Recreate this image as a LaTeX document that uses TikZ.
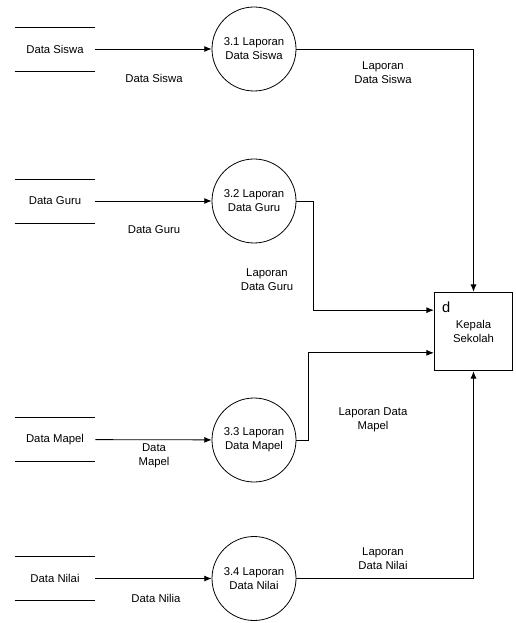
\documentclass[tikz,border=0pt]{standalone}
\usepackage{fontspec}
\setmainfont{Liberation Sans}
\usetikzlibrary{arrows.meta,positioning,calc}

\newcommand{\dfdfont}{\fontsize{8.5}{10.5}\selectfont}

\begin{document}
\begin{tikzpicture}[x=0.75pt, y=-0.75pt, line width=0.6pt,
    store/.style={minimum width=60pt, minimum height=32.5pt, inner sep=0pt, font=\dfdfont},
    process/.style={circle, draw, minimum size=63pt, inner sep=1pt, align=center, font=\dfdfont},
    entity/.style={rectangle, draw, minimum size=59pt, align=center, font=\dfdfont},
    flowlabel/.style={align=center, font=\dfdfont},
    arrow/.style={-{Latex[length=5.5pt,width=4.5pt]}}
]
\useasboundingbox (0,0) rectangle (516,623);

% Data stores
\node[store] (dsiswa) at (55, 49) {Data Siswa};
\node[store] (dguru) at (55, 201) {Data Guru};
\node[store] (dmapel) at (55, 439.5) {Data Mapel};
\node[store] (dnilai) at (55, 578.5) {Data Nilai};
\foreach \s in {dsiswa, dguru, dmapel, dnilai} {
    \draw (\s.north west) -- (\s.north east);
    \draw (\s.south west) -- (\s.south east);
}

% Processes
\node[process] (p31) at (254, 49) {3.1 Laporan\\Data Siswa};
\node[process] (p32) at (254, 201) {3.2 Laporan\\Data Guru};
\node[process] (p33) at (254, 440) {3.3 Laporan\\Data Mapel};
\node[process] (p34) at (254, 578.5) {3.4 Laporan\\Data Nilai};

% External entity
\node[entity] (kepsek) at (473.5, 331.5) {Kepala\\Sekolah};
\node[font=\fontsize{11}{11}\selectfont, anchor=north west, inner sep=0pt] (kd) at ([shift={(6pt,-7pt)}]kepsek.north west) {d};

% Flows into processes
\draw[arrow] (dsiswa) -- (p31);
\draw[arrow] (dguru) -- (p32);
\draw[arrow] (dmapel) -- (p33);
\draw[arrow] (dnilai) -- (p34);

% Flows to Kepala Sekolah
\draw[arrow] (p31) -| (kepsek);
\draw[arrow] (p32.east) -- ++(17,0) |- ([yshift=16pt]kepsek.west);
\draw[arrow] (p33.east) -- ++(12,0) |- ([yshift=-16pt]kepsek.west);
\draw[arrow] (p34) -| (kepsek);

% Flow labels
\node[flowlabel] (l1) at (154, 78) {Data Siswa};
\node[flowlabel] (l2) at (154, 230) {Data Guru};
\node[flowlabel] (l3) at (154, 456) {Data\\Mapel};
\node[flowlabel] (l4) at (156, 598) {Data Nilia};
\node[flowlabel] (l5) at (383, 73) {Laporan\\Data Siswa};
\node[flowlabel] (l6) at (267, 280) {Laporan\\Data Guru};
\node[flowlabel] (l7) at (373, 420) {Laporan Data\\Mapel};
\node[flowlabel] (l8) at (383, 559) {Laporan\\Data Nilai};

\end{tikzpicture}
\end{document}
